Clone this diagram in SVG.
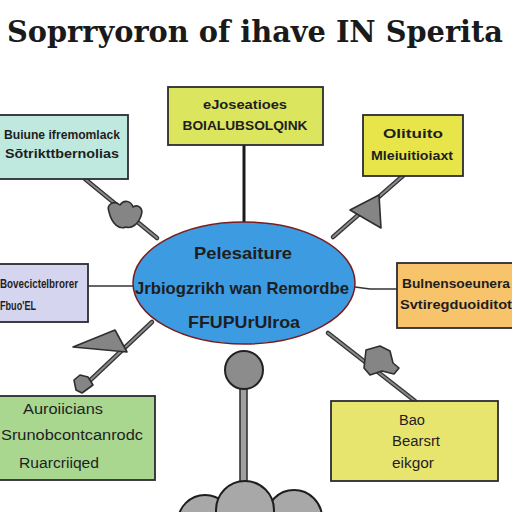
<svg xmlns="http://www.w3.org/2000/svg" width="512" height="512" viewBox="0 0 512 512">
<style>
.box{stroke:#2b2b33;stroke-width:1.8}
.lbl{font-family:"Liberation Sans",Arial,sans-serif;font-weight:bold;font-size:13px;fill:#1e1e22;text-anchor:middle}
.big{font-size:17px}
.thin{font-weight:normal;font-size:14px}
.ol{stroke:#333;stroke-width:4.5;stroke-linecap:round;fill:none}
.il{stroke:#8a8a8a;stroke-width:2;stroke-linecap:round;fill:none}
.gr{fill:#858585;stroke:#2e2e2e;stroke-width:1.6;stroke-linejoin:round}
.cl{fill:#a8a8a8;stroke:#1e1e1e;stroke-width:2}
</style>
<rect width="512" height="512" fill="#ffffff"/>
<text x="255" y="42" font-family="'DejaVu Serif','Liberation Serif',serif" font-weight="bold" font-size="29" text-anchor="middle" textLength="496" lengthAdjust="spacingAndGlyphs" fill="#1a1a1a">Soprryoron of ihave IN Sperita</text>

<g id="connectors">
  <line x1="244" y1="145" x2="244" y2="225" stroke="#1a1a1a" stroke-width="3"/>
  <line class="ol" x1="85" y1="179" x2="157" y2="238"/>
  <line class="il" x1="85" y1="179" x2="157" y2="238"/>
  <path class="gr" d="M109,212 C106,204 114,200 120,205 C124,199 131,201 133,207 C138,204 144,208 141,216 C138,224 132,229 126,227 C119,230 112,224 109,212 Z"/>
  <line class="ol" x1="405" y1="174" x2="333" y2="237"/>
  <line class="il" x1="405" y1="174" x2="333" y2="237"/>
  <polygon class="gr" points="350,210 379,195 381,228"/>
  <line x1="88" y1="286" x2="134" y2="286" stroke="#333" stroke-width="1.5"/>
  <polyline points="355,287 370,289 397,289" fill="none" stroke="#333" stroke-width="1.5"/>
  <line class="ol" x1="152" y1="322" x2="82" y2="388"/>
  <line class="il" x1="152" y1="322" x2="82" y2="388"/>
  <polygon class="gr" points="73,347 115,330 127,352"/>
  <polygon class="gr" points="74,380 80,375 88,377 93,385 82,393 76,390"/>
  <line class="ol" x1="328" y1="333" x2="415" y2="401"/>
  <line class="il" x1="328" y1="333" x2="415" y2="401"/>
  <path class="gr" d="M366,350 L380,346 L390,351 L393,363 L399,368 L394,374 L382,371 L370,375 L364,368 Z"/>
  <rect x="240" y="385" width="7" height="98" fill="#a0a0a0" stroke="#2a2a2a" stroke-width="1.5"/>
</g>

<g id="node-top-left">
  <rect class="box" x="-2" y="115" width="130" height="64" fill="#bfe8de"/>
  <text class="lbl" x="62" y="139" textLength="116" lengthAdjust="spacingAndGlyphs">Buiune ifremomlack</text>
  <text class="lbl" x="62" y="158" textLength="114" lengthAdjust="spacingAndGlyphs">Sõtrikttbernolias</text>
</g>

<g id="node-top-center">
  <rect class="box" x="168" y="87" width="155" height="58" fill="#dce55e"/>
  <text class="lbl" x="245" y="109" textLength="84" lengthAdjust="spacingAndGlyphs">eJoseatioes</text>
  <text class="lbl" x="245" y="130" textLength="125" lengthAdjust="spacingAndGlyphs">BOIALUBSOLQINK</text>
</g>

<g id="node-top-right">
  <rect class="box" x="363" y="115" width="100" height="61" fill="#e7e54a"/>
  <text class="lbl" x="413" y="138" textLength="60" lengthAdjust="spacingAndGlyphs">Olituito</text>
  <text class="lbl" x="412" y="160" textLength="82" lengthAdjust="spacingAndGlyphs">Mleiuitioiaxt</text>
</g>

<g id="node-center">
  <ellipse cx="244" cy="283" rx="111" ry="61" fill="#3d9be1" stroke="#7a1c1c" stroke-width="1.5"/>
  <text class="lbl big" x="243" y="259" textLength="98" lengthAdjust="spacingAndGlyphs">Pelesaiture</text>
  <text class="lbl big" x="242" y="294" textLength="214" lengthAdjust="spacingAndGlyphs">Jrbiogzrikh wan Remordbe</text>
  <text class="lbl big" x="244" y="328" textLength="112" lengthAdjust="spacingAndGlyphs">FFUPUrUIroa</text>
</g>

<g id="node-mid-left">
  <rect class="box" x="-2" y="264" width="90" height="58" fill="#d6d5f0"/>
  <text class="lbl" x="39" y="288" textLength="78" lengthAdjust="spacingAndGlyphs">Bovecictelbrorer</text>
  <text class="lbl" x="18" y="310" textLength="36" lengthAdjust="spacingAndGlyphs">Fbuo'EL</text>
</g>

<g id="node-mid-right">
  <rect class="box" x="397" y="263" width="120" height="65" fill="#f7c46c"/>
  <text class="lbl" x="456" y="288" textLength="108" lengthAdjust="spacingAndGlyphs">Bulnensoeunera</text>
  <text class="lbl" x="456" y="309" textLength="112" lengthAdjust="spacingAndGlyphs">Svtiregduoiditot</text>
</g>

<g id="node-bottom-left">
  <rect class="box" x="-2" y="396" width="157" height="84" fill="#a9d78f"/>
  <text class="lbl thin" x="63" y="414" textLength="80" lengthAdjust="spacingAndGlyphs">Auroiicians</text>
  <text class="lbl thin" x="72" y="440" textLength="142" lengthAdjust="spacingAndGlyphs">Srunobcontcanrodc</text>
  <text class="lbl thin" x="59" y="468" textLength="80" lengthAdjust="spacingAndGlyphs">Ruarcriiqed</text>
</g>

<g id="node-bottom-right">
  <rect class="box" x="331" y="401" width="167" height="80" fill="#e7e56e"/>
  <text class="lbl thin" x="412" y="425" textLength="26" lengthAdjust="spacingAndGlyphs">Bao</text>
  <text class="lbl thin" x="416" y="446" textLength="48" lengthAdjust="spacingAndGlyphs">Bearsrt</text>
  <text class="lbl thin" x="413" y="468" textLength="42" lengthAdjust="spacingAndGlyphs">eikgor</text>
</g>

<g id="node-bottom-hub">
  <circle cx="244" cy="370" r="19" fill="#8c8c8c" stroke="#222" stroke-width="2"/>
  <circle class="cl" cx="205" cy="522" r="27"/>
  <circle class="cl" cx="294" cy="518" r="28"/>
  <circle class="cl" cx="245" cy="510" r="29"/>
</g>
</svg>
